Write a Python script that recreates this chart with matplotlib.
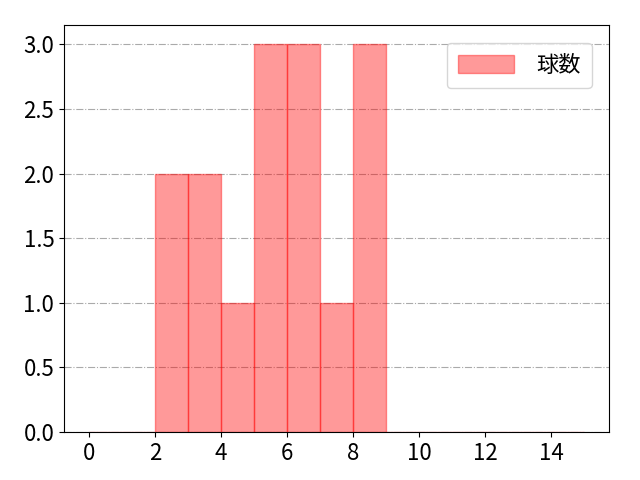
import matplotlib
matplotlib.use("Agg")
import matplotlib.pyplot as plt

plt.rcParams['font.family'] = ['Noto Sans CJK JP', 'DejaVu Sans']

# histogram bins (left edges) and counts
bin_edges = list(range(0, 16))
counts = [0, 0, 2, 2, 1, 3, 3, 1, 3, 0, 0, 0, 0, 0, 0]
x_ticks = [0, 2, 4, 6, 8, 10, 12, 14]
y_ticks = [0.0, 0.5, 1.0, 1.5, 2.0, 2.5, 3.0]

fig, ax = plt.subplots(figsize=(6.4, 4.8), dpi=100)
ax.bar(bin_edges[:-1], counts, width=1, align="edge",
       color="red", alpha=0.4, edgecolor="red", linewidth=1, label="球数")
ax.set_xticks(x_ticks)
ax.set_yticks(y_ticks)
ax.set_yticklabels([f"{v:.1f}" for v in y_ticks])
ax.tick_params(labelsize=16)
ax.grid(axis="y", linestyle="-.", color="#aaaaaa", linewidth=0.8)
ax.set_axisbelow(True)
ax.legend(fontsize=16, loc="upper right", handlelength=2.5,
          handleheight=0.85, handletextpad=1.0, borderpad=0.5,
          borderaxespad=0.8)
plt.subplots_adjust(left=0.1, right=0.952, top=0.948, bottom=0.1)
plt.savefig("out.png")
